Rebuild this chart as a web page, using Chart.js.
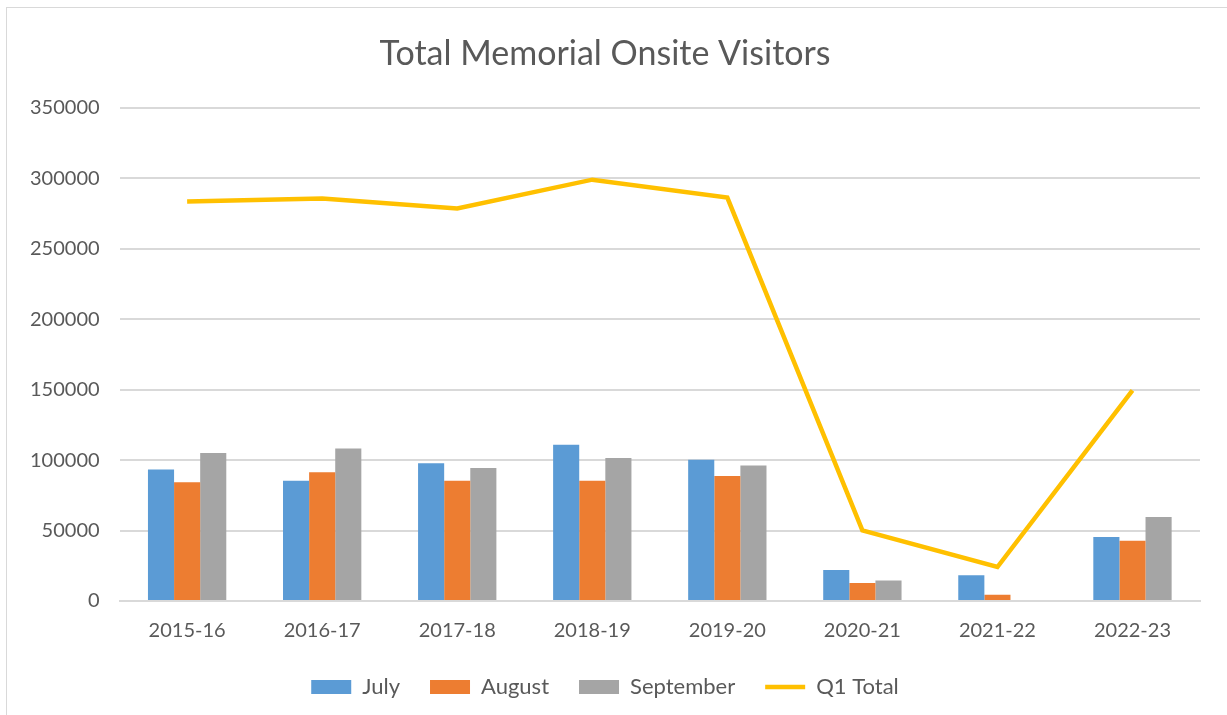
<!DOCTYPE html>
<html>
<head>
<meta charset="utf-8">
<title>Total Memorial Onsite Visitors</title>
<script src="https://cdn.jsdelivr.net/npm/chart.js@4/dist/chart.umd.min.js"></script>
<style>
  html, body { margin: 0; padding: 0; background: #fff; }
  #frame {
    position: absolute; left: 6px; top: 7px; width: 1221px; height: 708px;
    border-top: 1px solid #d9d9d9; border-left: 1px solid #d9d9d9;
  }
  #wrap { position: absolute; left: 0; top: 0; width: 1227px; height: 715px; }
</style>
</head>
<body>
<div id="frame"></div>
<div id="wrap"><canvas id="chart"></canvas></div>
<script>
// values
const seasons = ['2015-16', '2016-17', '2017-18', '2018-19', '2019-20', '2020-21', '2021-22', '2022-23'];
const july      = [93400, 85400, 97700, 110900, 100300, 22000, 18200, 45400];
const august    = [84200, 91300, 85400, 85400, 88700, 12800, 4500, 42800];
const september = [105000, 108300, 94300, 101400, 96200, 14500, 0, 59600];
const q1Total   = [283500, 285600, 278500, 299000, 286300, 50100, 24100, 149400];

const FONT = 'Lato, "Open Sans", sans-serif';
const TEXT = '#595959';
const GRID = '#d9d9d9';

new Chart(document.getElementById('chart'), {
  data: {
    labels: seasons,
    datasets: [
      { type: 'line', label: 'Q1 Total', data: q1Total, borderColor: '#FFC000', backgroundColor: '#FFC000',
        borderWidth: 4.5, pointRadius: 0, pointStyle: 'line', tension: 0, order: 0 },
      { type: 'bar', label: 'July', data: july, backgroundColor: '#5B9BD5', pointStyle: 'rect', order: 1 },
      { type: 'bar', label: 'August', data: august, backgroundColor: '#ED7D31', pointStyle: 'rect', order: 1 },
      { type: 'bar', label: 'September', data: september, backgroundColor: '#A5A5A5', pointStyle: 'rect', order: 1 },
    ],
  },
  options: {
    responsive: true,
    maintainAspectRatio: false,
    animation: false,
    datasets: { bar: { categoryPercentage: 0.58, barPercentage: 1.0 } },
    layout: { padding: { left: 10, right: 27, top: 18, bottom: 7 } },
    plugins: {
      title: {
        display: true, text: 'Total Memorial Onsite Visitors', color: TEXT,
        font: { family: FONT, size: 34, weight: 'normal' }, padding: { top: 16, bottom: 33 },
      },
      tooltip: { enabled: false },
      legend: {
        position: 'bottom',
        labels: {
          color: TEXT, font: { family: FONT, size: 22 }, usePointStyle: true, pointStyleWidth: 40,
          boxWidth: 40, boxHeight: 14, padding: 30,
          sort: (a, b) => (a.datasetIndex === 0 ? 1 : 0) - (b.datasetIndex === 0 ? 1 : 0) || a.datasetIndex - b.datasetIndex,
          generateLabels: (chart) => Chart.defaults.plugins.legend.labels.generateLabels(chart).map(l => {
            if (l.text === 'Q1 Total') { l.lineWidth = 4.5; l.strokeStyle = '#FFC000'; }
            else { l.lineWidth = 0; }
            return l;
          }),
        },
      },
    },
    scales: {
      x: {
        grid: { display: false, drawTicks: false },
        border: { color: GRID, width: 2 },
        ticks: { color: TEXT, font: { family: FONT, size: 20 }, padding: 18 },
        afterFit: (axis) => { axis.height -= 15; },
      },
      y: {
        min: 0, max: 350000,
        grid: { color: GRID, lineWidth: 2, drawTicks: false },
        border: { display: false },
        ticks: { stepSize: 50000, color: TEXT, font: { family: FONT, size: 20 }, padding: 20,
                 callback: (v) => String(v) },
      },
    },
  },
});
</script>
</body>
</html>
